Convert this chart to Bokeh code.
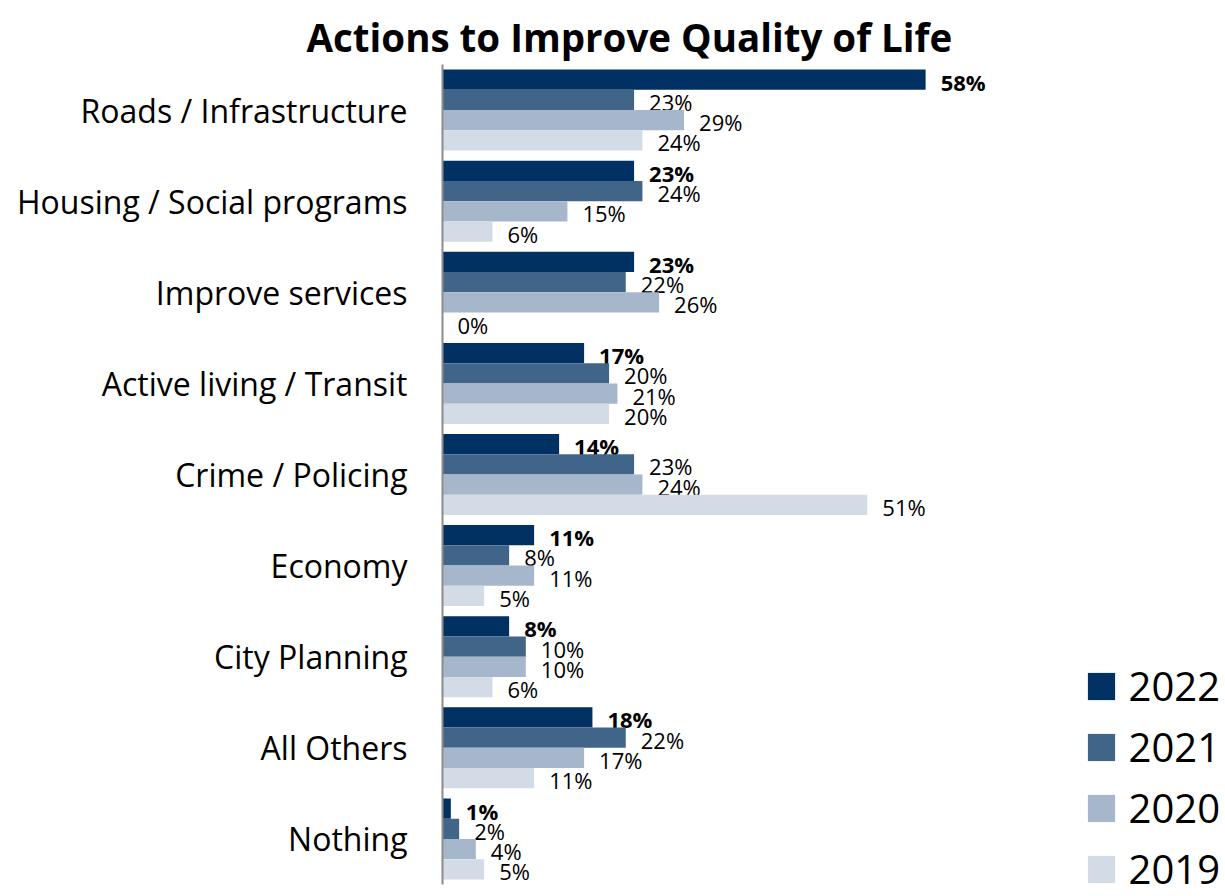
from bokeh.plotting import figure
from bokeh.models import (ColumnDataSource, FactorRange, Range1d, Legend, LegendItem)
from bokeh.transform import dodge
from bokeh.embed import file_html
from bokeh.resources import INLINE
from bokeh.core.properties import value

# ---------------- data ----------------
categories = ["Roads / Infrastructure", "Housing / Social programs", "Improve services",
              "Active living / Transit", "Crime / Policing", "Economy", "City Planning",
              "All Others", "Nothing"]
years = ["2022", "2021", "2020", "2019"]
v2022 = [58, 23, 23, 17, 14, 11, 8, 18, 1]
v2021 = [23, 24, 22, 20, 23, 8, 10, 22, 2]
v2020 = [29, 15, 26, 21, 24, 11, 10, 17, 4]
v2019 = [24, 6, 0, 20, 51, 5, 6, 11, 5]
series = {"2022": v2022, "2021": v2021, "2020": v2020, "2019": v2019}
colors = {"2022": "#003162", "2021": "#416489", "2020": "#a6b7cb", "2019": "#d3dce6"}
title_text = "Actions to Improve Quality of Life"

FONT = "Open Sans"

p = figure(width=1225, height=896, output_backend="svg", toolbar_location=None,
           y_range=FactorRange(*reversed(categories)),
           x_range=Range1d(0, 94.0),
           x_axis_location=None, min_border_left=442, min_border_right=0,
           min_border_top=64, min_border_bottom=12)
p.outline_line_color = None
p.xgrid.visible = False
p.ygrid.visible = False
p.background_fill_color = "white"
p.border_fill_color = "white"

p.title.text = title_text
p.title.align = "left"
p.title.offset = -136
p.title.text_font = FONT
p.title.text_font_size = "38.5px"
p.title.text_font_style = "bold"
p.title.text_color = "black"
p.title.vertical_align = "top"
p.title.standoff = 0

bar_h = 0.2222
offsets = {"2022": 1.5 * bar_h, "2021": 0.5 * bar_h, "2020": -0.5 * bar_h, "2019": -1.5 * bar_h}

items = []
for yr in years:
    vals = series[yr]
    src = ColumnDataSource(dict(cat=categories, val=vals, lab=[f"{v}%" for v in vals]))
    r = p.hbar(y=dodge("cat", offsets[yr], range=p.y_range), right="val", left=0,
               height=bar_h, source=src, fill_color=colors[yr], line_color=None)
    p.text(x="val", y=dodge("cat", offsets[yr], range=p.y_range), text="lab", source=src,
           x_offset=15, y_offset=2, text_baseline="middle", text_align="left",
           text_font=value(FONT), text_font_size="22px",
           text_font_style="bold" if yr == "2022" else "normal", text_color="black")
    items.append(LegendItem(label=yr, renderers=[r]))

ax = p.yaxis[0]
ax.major_tick_line_color = None
ax.minor_tick_line_color = None
ax.major_tick_out = 0
ax.major_tick_in = 0
ax.axis_line_color = "#8c8c8c"
ax.axis_line_width = 2
ax.major_label_standoff = 35
ax.major_label_text_font = FONT
ax.major_label_text_font_size = "32px"
ax.major_label_text_color = "black"

legend = Legend(items=items, location=(641.6, -12), orientation="vertical",
                glyph_width=34, glyph_height=34, label_standoff=11,
                label_text_font=FONT, label_text_font_size="40px", label_text_color="black",
                spacing=6, padding=0, margin=0, border_line_color=None,
                background_fill_alpha=0)
p.add_layout(legend, "center")

open("out.html", "w").write(file_html(p, INLINE))
